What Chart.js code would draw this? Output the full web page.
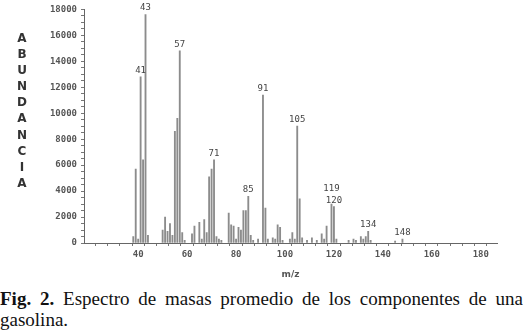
<!DOCTYPE html>
<html>
<head>
<meta charset="utf-8">
<script src="https://cdn.jsdelivr.net/npm/chart.js@4/dist/chart.umd.min.js"></script>
<style>
  html, body { margin: 0; padding: 0; background: #fff; }
  body { width: 523px; height: 333px; position: relative; overflow: hidden; }
  #wrap { position: absolute; left: 0; top: 0; width: 523px; height: 285px; }
  #ytitle { position: absolute; left: 12px; top: 30px; width: 20px; text-align: center;
    font-family: "DejaVu Sans", sans-serif; font-weight: bold; font-size: 12px; line-height: 16.1px; color: #333; }
  #caption { position: absolute; left: 0; top: 288px; width: 523px; text-align: justify;
    font-family: "Liberation Serif", "Times New Roman", serif; font-size: 19px; line-height: 21px; color: #111; }
</style>
</head>
<body>
<div id="wrap"><canvas id="c" width="523" height="285"></canvas></div>
<div id="ytitle">A<br>B<br>U<br>N<br>D<br>A<br>N<br>C<br>I<br>A</div>
<div id="caption"><b>Fig. 2.</b> Espectro de masas promedio de los componentes de una gasolina.</div>
<script>
// m/z values of the peaks
const mz = [38,39,40,41,42,43,44,50,51,52,53,54,55,56,57,58,59,62,63,65,66,67,68,69,70,71,72,73,74,
  77,78,79,80,81,82,83,84,85,86,87,89,91,92,93,95,96,97,98,99,102,103,104,105,106,107,109,111,113,
  115,116,117,119,120,121,126,128,129,131,132,133,134,135,145,148];
// abundance of each peak
const abundance = [500,5700,300,12800,6400,17600,600,1000,2000,900,1500,600,8600,9600,14800,800,200,700,1300,1600,300,1800,800,5100,5700,6400,500,300,200,
  2300,1400,1300,300,1200,1000,2500,2500,3600,600,200,300,11400,2700,300,400,300,1400,1200,200,300,800,300,9000,3400,400,200,400,200,
  700,300,1300,3000,2800,300,200,300,200,500,300,500,900,200,150,300];
// peaks that carry a label
const labelledPeaks = [41,43,57,71,85,91,105,119,120,134,148];
// x tick labels shown
const xTickLabels = [40,60,80,100,120,140,160,180];
// x minor tick positions
const xMinorTicks = [25,30,35,40,45,50,55,60,65,70,75,80,85,90,95,100,105,110,115,120,125,130,135,140,145,150,155,160,165,170,175,180];
// y tick labels shown
const yTickLabels = [0,2000,4000,6000,8000,10000,12000,14000,16000,18000];

const labelLift = {119: 9};

const peakLabels = {
  id: 'peakLabels',
  afterDatasetsDraw(chart) {
    const ctx = chart.ctx, xs = chart.scales.x, ys = chart.scales.y;
    ctx.save();
    ctx.font = '9px "DejaVu Sans Mono", monospace';
    ctx.fillStyle = '#444';
    ctx.textAlign = 'center';
    ctx.textBaseline = 'bottom';
    labelledPeaks.forEach(m => {
      const i = mz.indexOf(m);
      const px = xs.getPixelForValue(m);
      const py = ys.getPixelForValue(abundance[i]) - 2 - (labelLift[m] || 0);
      ctx.fillText(String(m), px, py);
    });
    ctx.restore();
  }
};

const tickFont = { family: '"DejaVu Sans Mono", monospace', size: 9, weight: 'bold' };

new Chart(document.getElementById('c'), {
  type: 'bar',
  data: {
    datasets: [{
      data: mz.map((m, i) => ({ x: m, y: abundance[i] })),
      backgroundColor: '#8c8c8c',
      borderWidth: 0,
      barThickness: 1.2,
      grouped: false
    }]
  },
  options: {
    responsive: false,
    animation: false,
    devicePixelRatio: 1,
    layout: { padding: { top: 4, right: 26, left: 0, bottom: 0 } },
    plugins: { legend: { display: false }, tooltip: { enabled: false } },
    scales: {
      x: {
        type: 'linear', min: 20.5, max: 184,
        afterFit(s) { s.height = 42; },
        afterBuildTicks(s) { s.ticks = xMinorTicks.map(v => ({ value: v })); },
        border: { color: '#666', width: 1 },
        grid: { drawOnChartArea: false, drawTicks: true, tickLength: 3, color: '#777' },
        ticks: {
          autoSkip: false, maxRotation: 0, padding: 3,
          color: '#555', font: tickFont,
          callback: v => xTickLabels.includes(v) ? String(v) : ''
        },
        title: { display: true, text: 'm/z', color: '#555',
          font: { family: '"DejaVu Sans", sans-serif', size: 9, weight: 'bold' },
          padding: { top: 0, bottom: 5 } }
      },
      y: {
        min: 0, max: 18000,
        afterFit(s) { s.width = 84; },
        border: { color: '#666', width: 1 },
        grid: { drawOnChartArea: false, drawTicks: true, tickLength: 3, color: '#777' },
        ticks: {
          stepSize: 500, autoSkip: false, padding: 4,
          color: '#555', font: tickFont,
          callback: v => yTickLabels.includes(v) ? String(v) : ''
        }
      }
    }
  },
  plugins: [peakLabels]
});
</script>
</body>
</html>
